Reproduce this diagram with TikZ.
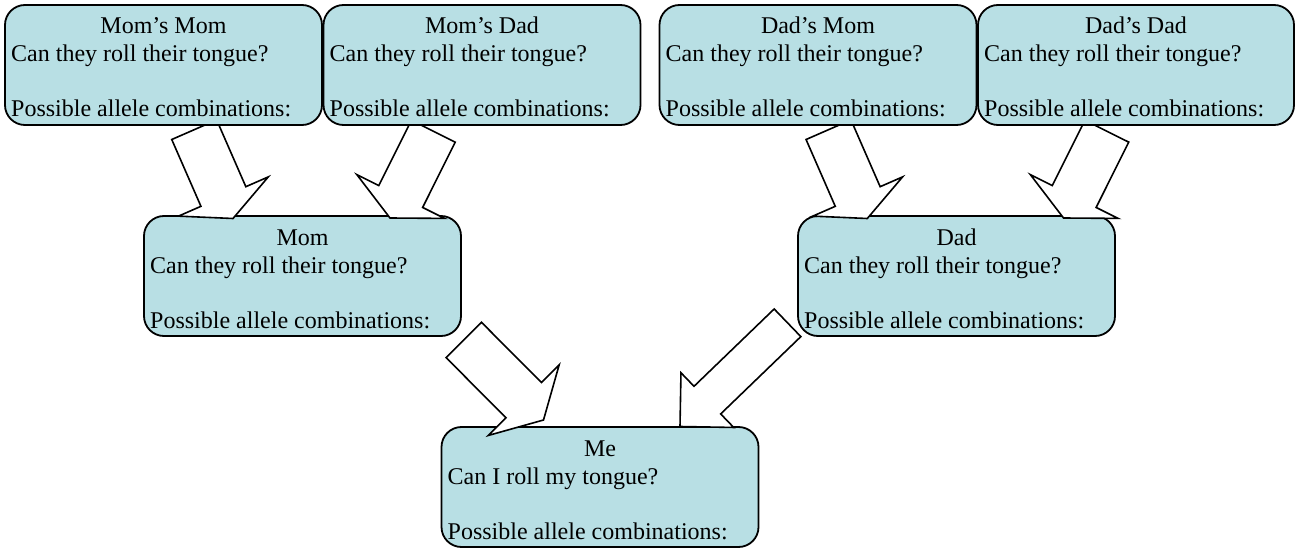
\documentclass[tikz,border=0pt]{standalone}
\usepackage{fontspec}
\setmainfont{Liberation Serif}
\newfontfamily\tnr{Liberation Serif}
\usetikzlibrary{calc}
\pgfdeclarelayer{low}
\pgfdeclarelayer{arr}
\pgfsetlayers{low,arr,main}
\definecolor{boxfill}{HTML}{B8DFE4}
\tikzset{
  famb/.style={draw=black, line width=1.8pt, fill=boxfill, rounded corners=20pt,
    minimum width=317pt, minimum height=120pt, inner sep=0pt, outer sep=0pt},
  ttl/.style={anchor=base, inner sep=0pt, font=\tnr\fontsize{24}{28}\selectfont},
  lne/.style={anchor=base west, inner sep=0pt, font=\tnr\fontsize{24}{28}\selectfont},
  barrow/.style={draw=black, fill=white, line width=1.6pt, line join=miter}
}
\newcommand\blkarrow[5]{%
  \draw[barrow] ($(#1)!#3!90:(#2)$) -- ($(#2)!#5!(#1)!#3!-90:(#1)$)
    -- ($(#2)!#5!(#1)!#4!-90:(#1)$) -- (#2)
    -- ($(#2)!#5!(#1)!#4!90:(#1)$) -- ($(#2)!#5!(#1)!#3!90:(#1)$)
    -- ($(#1)!#3!-90:(#2)$) -- cycle;}
\newcommand\boxtext[4]{% box, title, line2, line4
  \node[ttl] (#1T) at ($(#1.north)+(0,29)$) {#2};
  \node[lne] (#1Q) at ($(#1.north west)+(6,57)$) {#3};
  \node[lne] (#1P) at ($(#1.north west)+(6,112)$) {#4};}
\begin{document}
\begin{tikzpicture}[x=1pt,y=-1pt]
\useasboundingbox (0,0) rectangle (1298,548);
% top row
\node[famb] (mm) at (163.5,65) {};
\node[famb] (md) at (482,65) {};
\node[famb] (dm) at (818,65) {};
\node[famb, minimum width=316pt] (dd) at (1136,65) {};
% middle and bottom rows
\begin{pgfonlayer}{low}
\node[famb] (mom) at (302.5,276) {};
\node[famb] (dad) at (956.5,276) {};
\node[famb] (me) at (600,487) {};
\end{pgfonlayer}
% texts
\boxtext{mm}{Mom’s Mom}{Can they roll their tongue?}{Possible allele combinations:}
\boxtext{md}{Mom’s Dad}{Can they roll their tongue?}{Possible allele combinations:}
\boxtext{dm}{Dad’s Mom}{Can they roll their tongue?}{Possible allele combinations:}
\boxtext{dd}{Dad’s Dad}{Can they roll their tongue?}{Possible allele combinations:}
\boxtext{mom}{Mom}{Can they roll their tongue?}{Possible allele combinations:}
\boxtext{dad}{Dad}{Can they roll their tongue?}{Possible allele combinations:}
\boxtext{me}{Me}{Can I roll my tongue?}{Possible allele combinations:}
% arrow end points
\coordinate (a1t) at ($(mm.south)+(30.7,4.7)$);
\coordinate (a1h) at ($(mom.north)+(-69.5,2.5)$);
\coordinate (a2t) at ($(md.south)+(-48.7,6.2)$);
\coordinate (a2h) at ($(mom.north)+(87.5,2)$);
\coordinate (a5t) at ($(dm.south)+(10.5,4.7)$);
\coordinate (a5h) at ($(dad.north)+(-89.2,2.5)$);
\coordinate (a6t) at ($(dd.south)+(-29.2,6.2)$);
\coordinate (a6h) at ($(dad.north)+(107,2)$);
\coordinate (a3t) at ($(mom.south east)+(2.8,4)$);
\coordinate (a3h) at ($(me.north)+(-56.5,-7)$);
\coordinate (a4t) at ($(dad.south west)+(-10.5,-13.2)$);
\coordinate (a4h) at ($(me.north)+(80,-0.5)$);
\begin{pgfonlayer}{arr}
\blkarrow{a1t}{a1h}{24.5pt}{49pt}{24pt}
\blkarrow{a2t}{a2h}{24.5pt}{49pt}{24pt}
\blkarrow{a5t}{a5h}{24.5pt}{49pt}{24pt}
\blkarrow{a6t}{a6h}{24.5pt}{49pt}{24pt}
\blkarrow{a3t}{a3h}{25pt}{50pt}{28pt}
\blkarrow{a4t}{a4h}{19.2pt}{38pt}{38pt}
\end{pgfonlayer}
\end{tikzpicture}
\end{document}
